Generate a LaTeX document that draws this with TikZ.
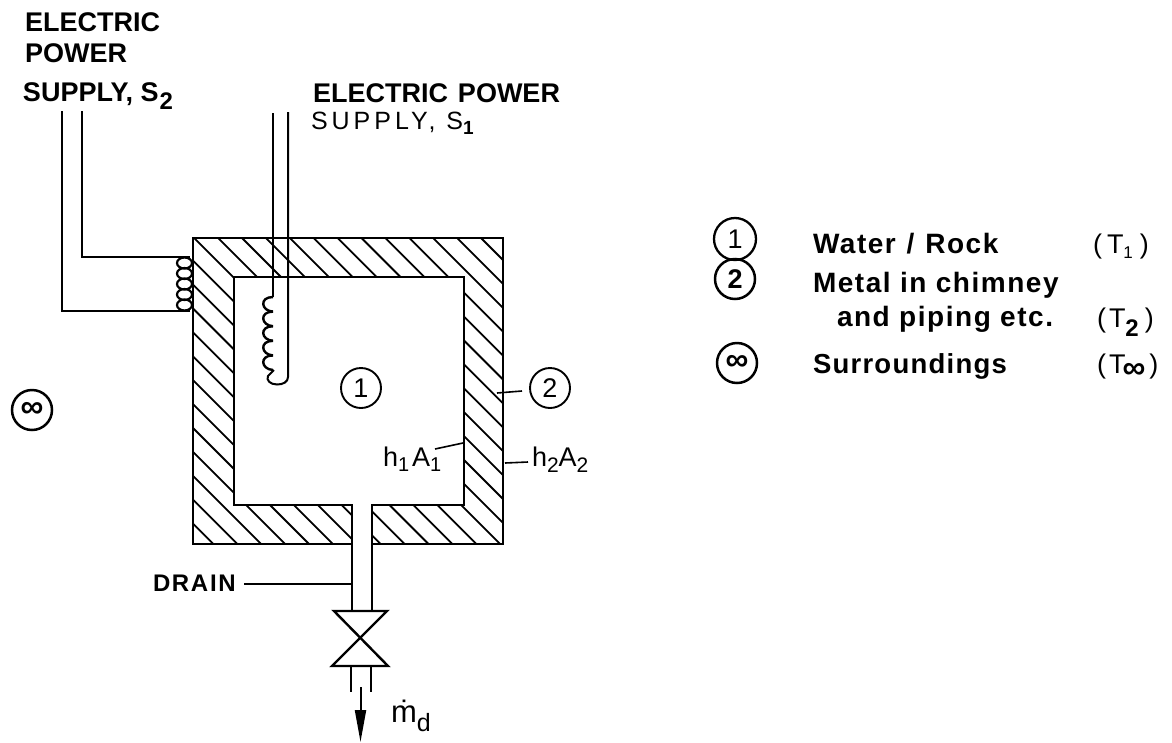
\documentclass[tikz,border=0pt]{standalone}
\usepackage{fontspec}
\setmainfont{Liberation Sans}
\newfontfamily\legf[LetterSpace=5.5]{Liberation Sans}
\newfontfamily\legs[LetterSpace=4.5]{Liberation Sans}
\newfontfamily\hand[LetterSpace=7]{Liberation Sans}
\newfontfamily\handw[LetterSpace=16]{Liberation Sans}
\usetikzlibrary{arrows.meta}
\newcommand{\fs}[1]{\fontsize{#1}{#1}\selectfont}
\tikzset{
  wall/.style={line width=2.8pt,line join=miter},
  wire/.style={line width=2pt},
  hatch/.style={line width=1.8pt},
  leader/.style={line width=1.6pt},
  num/.style={circle,draw,line width=1.9pt,minimum size=40pt,inner sep=0pt,font=\fs{27}},
  numb/.style={circle,draw,line width=2.5pt,minimum size=40pt,inner sep=0pt,font=\fs{27}\bfseries},
  lab/.style={anchor=base west,inner sep=0pt,outer sep=0pt},
  boldlab/.style={lab,font=\fs{27}\bfseries},
  leglab/.style={lab,font=\legf\fs{28}\bfseries},
  handlab/.style={lab,font=\hand\fs{27}},
}
\begin{document}
\begin{tikzpicture}[x=1pt,y=-1pt]
\useasboundingbox (0,0) rectangle (1172,742);
% hatching
\begin{scope}
\clip (193,238)--(503,238)--(503,544)--(372,544)--(372,505)--(464,505)--(464,277)--(234,277)--(234,505)--(352,505)--(352,544)--(193,544)--cycle;
\foreach \k in {0,...,24}{
  \pgfmathsetmacro{\c}{243-23.9*\k}
  \draw[hatch] ({\c+100},100) -- ({\c+700},700);
}
\end{scope}
\draw[wall] (193,238)--(503,238)--(503,544)--(372,544)--(372,505)--(464,505)--(464,277)--(234,277)--(234,505)--(352,505)--(352,544)--(193,544)--cycle;
% drain
\draw[wall] (352,544)--(352,611);
\draw[wall] (372,544)--(372,611);
% valve
\coordinate (vtl) at (334,611);\coordinate (vtr) at (387,611);
\coordinate (vbl) at (332,666);\coordinate (vbr) at (388,666);
\draw[line width=2.4pt,line join=miter] (vtl)--(vtr)--(vbl)--(vbr)--cycle;
\draw[wire] (351,666)--(351,692);
\draw[wire] (370.5,666)--(370.5,692);
\coordinate (ma) at (360.5,687);\coordinate (mb) at (360.5,742);
\draw[line width=2pt,-{Triangle[length=32pt,width=11pt]}] (ma)--(mb);
% S2 wires and coil
\draw[wire] (62,111)--(62,311)--(190,311);
\draw[wire] (82,111)--(82,257)--(190,257);
\foreach \k in {0,...,4}{
  \draw[line width=2.2pt] ({184.5},{263+10.5*\k}) ellipse (7.5pt and 5.5pt);
}
% S1 wires and coil
\draw[wire] (273,113)--(273,297);
\draw[wire] (288,112)--(288,377) .. controls (288,382) and (283,384.5) .. (277,384.5) .. controls (270,384.5) and (266,380) .. (268,376) -- (274,370);
\foreach \k in {0,...,4}{
  \draw[line width=2.4pt] (273,{297+14.6*\k}) .. controls (259,{297+14.6*\k}) and (261,{311+14.6*\k}) .. (273,{311.6+14.6*\k});
}
% labels
\node[boldlab] (e1) at (25,31) {ELECTRIC};
\node[boldlab] (e2) at (25,62) {POWER};
\node[boldlab] (e3) at (23,101) {SUPPLY, S\hspace{1pt}\raisebox{-8pt}{\fs{24}2}};
\node[boldlab] (p1) at (313,102) {ELECTRIC\hspace{2.5pt} POWER};
\node[lab,font=\handw\fs{25}] (p2) at (311,129) {SUPPLY, S\raisebox{-5pt}{\fs{19}\bfseries 1}};
\node[num] (c1) at (361,388) {1};
\node[num] (c2) at (550,388) {2};
\node[numb] (cinf) at (32,410) {\fs{32}∞};
\coordinate (l2) at (497,393);\coordinate (l2b) at (522,391);
\draw[leader] (l2)--(l2b);
\node[handlab] (h1) at (383,466) {h\raisebox{-5pt}{\fs{20}1}\hspace{3pt}A\raisebox{-5pt}{\fs{20}1}};
\coordinate (h1a) at (463,443);\coordinate (h1b) at (435,449);
\draw[leader] (h1a)--(h1b);
\node[handlab] (h2) at (532,466) {h\raisebox{-6pt}{\fs{21}2}A\raisebox{-6pt}{\fs{21}2}};
\coordinate (h2a) at (505,463);\coordinate (h2b) at (528,462);
\draw[leader] (h2a)--(h2b);
\node[lab,font=\hand\fs{24}\bfseries] (dr) at (153,591) {DRAIN};
\coordinate (dra) at (244,584);\coordinate (drb) at (352,584);
\draw[leader] (dra)--(drb);
\node[lab,font=\fs{31}] (md) at (391,722) {\.m\raisebox{-9pt}{\fs{25}d}};
% legend
\node[num,line width=2.3pt,minimum size=42pt] (k1) at (735,239) {1};
\node[numb,minimum size=40pt] (k2) at (735,279) {2};
\node[numb] (kinf) at (737,363) {\fs{32}∞};
\node[leglab] (t1) at (813,253) {Water\hspace{1.5pt} /\hspace{1.5pt} Rock};
\node[leglab] (t2) at (813,292) {Metal in chimney};
\node[leglab] (t3) at (837,326) {and piping etc.};
\node[lab,font=\legs\fs{27.5}\bfseries] (t4) at (813,373) {Surroundings};
\node[lab,font=\fs{27}] (v1) at (1093,253) {(\hspace{5pt}T\raisebox{-5pt}{\fs{17}1}\hspace{7pt})};
\node[lab,font=\fs{27}] (v2) at (1097,327) {(\hspace{3pt}T\raisebox{-9pt}{\fs{24}\bfseries 2}\hspace{6pt})};
\node[lab,font=\fs{27}] (v3) at (1097,373) {(\hspace{3pt}T\hspace{-3pt}\raisebox{-5pt}{\fs{32}\bfseries ∞}\hspace{4pt})};
\end{tikzpicture}
\end{document}
